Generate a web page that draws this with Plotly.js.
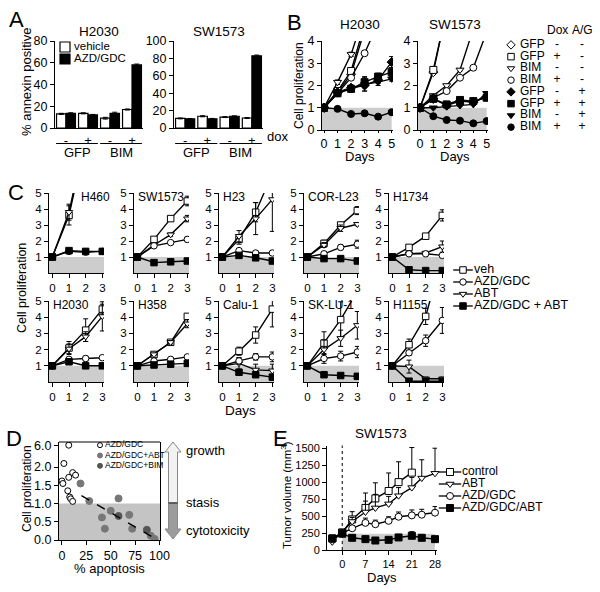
<!DOCTYPE html>
<html>
<head>
<meta charset="utf-8">
<script src="https://cdn.plot.ly/plotly-3.0.1.min.js"></script>
<style>
  html, body { margin: 0; padding: 0; background: #fff; }
  #fig { width: 600px; height: 592px; }
</style>
</head>
<body>
<div id="fig"></div>
<script>
// ---------- A: annexin staining ----------
const aConstruct = ['GFP', 'GFP', 'BIM', 'BIM'];
const aDox = ['-', '+', '-', '+'];
const aVehH2030 = [13, 13.5, 9, 17];
const aVehErrH2030 = [0.5, 0.5, 0.8, 0.5];
const aDrugH2030 = [13.5, 12, 13.5, 58];
const aDrugErrH2030 = [0.5, 0.5, 1, 0.8];
const aVehSW1573 = [11, 13.5, 12.5, 11.5];
const aVehErrSW1573 = [0.5, 0.6, 0.5, 0.5];
const aDrugSW1573 = [10.5, 10.5, 13.5, 83];
const aDrugErrSW1573 = [0.4, 0.5, 0.5, 0.8];
const aKeyNames = ['vehicle', 'AZD/GDC'];

// ---------- B: inducible BIM ----------
const bDays = [0, 1, 2, 3, 4, 5];
const bKeyConstruct = ['GFP', 'GFP', 'BIM', 'BIM', 'GFP', 'GFP', 'BIM', 'BIM'];
const bKeyDox = ['-', '+', '-', '+', '-', '+', '-', '+'];
const bKeyAG = ['-', '-', '-', '-', '+', '+', '+', '+'];
const bSymbols = ['diamond', 'square', 'triangle-down', 'circle', 'diamond', 'square', 'triangle-down', 'circle'];
const bFilled = [false, false, false, false, true, true, true, true];
const bH2030 = [
  [1, 1.7, 2.5, 4.8, 6.5, 8.5],
  [1, 1.75, 2.65, 4.6, 6.8, 9],
  [1, 2.15, 3.4, 5.3, 7, 9],
  [1, 1.65, 2.35, 3.45, 4.8, 6.5],
  [1, 1.7, 1.9, 2.0, 2.25, 3.05],
  [1, 1.65, 1.85, 2.15, 2.4, 2.6],
  [1, 1.7, 1.85, 2.05, 2.15, 2.3],
  [1, 0.95, 0.72, 0.75, 0.6, 0.8]
];
const bH2030Err = [
  [0, 0.1, 0.1, 0.1, 0, 0],
  [0, 0.1, 0.15, 0.1, 0, 0],
  [0, 0.1, 0.1, 0, 0, 0],
  [0, 0.1, 0.1, 0.1, 0, 0],
  [0, 0.1, 0.12, 0.25, 0.15, 0.25],
  [0, 0.12, 0.15, 0.25, 0.15, 0.2],
  [0, 0.1, 0.12, 0.3, 0.15, 0.1],
  [0, 0.05, 0.05, 0.05, 0.05, 0.05]
];
const bSW1573 = [
  [1, 2.6, 5.4, 8, 10, 12],
  [1, 2.7, 5.4, 8, 10, 12],
  [1, 1.55, 2.0, 2.7, 4.55, 6],
  [1, 1.45, 1.75, 2.35, 2.8, 4.4],
  [1, 1.4, 1.1, 1.3, 1.25, 1.5],
  [1, 1.4, 1.15, 1.35, 1.3, 1.45],
  [1, 1.0, 1.05, 1.1, 1.15, 1.65],
  [1, 0.62, 0.45, 0.42, 0.3, 0.4]
];
const bSW1573Err = [
  [0, 0.1, 0, 0, 0, 0],
  [0, 0.1, 0, 0, 0, 0],
  [0, 0.05, 0.05, 0.05, 0, 0],
  [0, 0.05, 0.05, 0.05, 0.05, 0],
  [0, 0.05, 0.05, 0.05, 0.05, 0.08],
  [0, 0.05, 0.05, 0.05, 0.05, 0.08],
  [0, 0.05, 0.05, 0.05, 0.05, 0.08],
  [0, 0.03, 0.03, 0.03, 0.03, 0.03]
];

// ---------- C: cell line panel ----------
const cDays = [0, 1, 2, 3];
const cCells = ['H460', 'SW1573', 'H23', 'COR-L23', 'H1734', 'H2030', 'H358', 'Calu-1', 'SK-LU-1', 'H1155'];
const cKeyNames = ['veh', 'AZD/GDC', 'ABT', 'AZD/GDC + ABT'];
const cVeh = [
  [1, 3.6, 8.3, 12], [1, 2.1, 3.4, 4.5], [1, 2.1, 3.8, 6.2], [1, 1.85, 3.0, 3.9], [1, 1.6, 2.3, 3.6],
  [1, 2.1, 3.2, 4.5], [1, 1.7, 2.45, 4.05], [1, 1.9, 2.9, 4.5], [1, 2.4, 3.85, 5.6], [1, 2.3, 4.05, 7.8]
];
const cVehErr = [
  [0, 0.6, 0, 0], [0, 0.1, 0.1, 0.3], [0, 0.3, 0.6, 0], [0, 0.2, 0.1, 0.25], [0, 0.1, 0.05, 0.35],
  [0, 0.4, 0.7, 0.3], [0, 0.05, 0.05, 0.1], [0, 0.25, 0.5, 1.1], [0, 0.7, 1.1, 0], [0, 0.35, 0.5, 0]
];
const cAzd = [
  [1, 1.35, 1.3, 1.35], [1, 1.7, 1.9, 2.1], [1, 1.4, 1.25, 1.25], [1, 1.2, 1.6, 1.8], [1, 1.2, 1.2, 1.1],
  [1, 1.4, 1.45, 1.5], [1, 1.3, 1.4, 1.55], [1, 1.3, 1.55, 1.55], [1, 1.45, 1.6, 1.85], [1, 1.8, 2.55, 3.8]
];
const cAzdErr = [
  [0, 0.05, 0.05, 0.05], [0, 0.1, 0.1, 0.15], [0, 0.1, 0.05, 0.05], [0, 0.15, 0.15, 0.25], [0, 0.05, 0.05, 0.05],
  [0, 0.1, 0.15, 0.1], [0, 0.05, 0.05, 0.05], [0, 0.2, 0.2, 0.3], [0, 0.3, 0.3, 0.35], [0, 0.15, 0.35, 0.8]
];
const cAbt = [
  [1, 3.8, 8.6, 13], [1, 1.75, 2.4, 3.4], [1, 2.3, 3.4, 4.6], [1, 1.75, 2.8, 3.05], [1, 1.2, 1.25, 1.65],
  [1, 2.05, 2.8, 4.05], [1, 1.7, 2.45, 3.6], [1, 1.15, 0.75, 0.7], [1, 2.0, 2.7, 3.5], [1, 0.95, 0.2, 0.2]
];
const cAbtErr = [
  [0, 0.5, 0, 0], [0, 0.1, 0.1, 0.2], [0, 0.35, 1.0, 2.0], [0, 0.15, 0.2, 0.1], [0, 0.1, 0.1, 0.35],
  [0, 0.3, 0.3, 0.9], [0, 0.05, 0.1, 0.25], [0, 0.35, 0.35, 0.4], [0, 0.6, 0.5, 0.85], [0, 0.4, 0.1, 0.1]
];
const cCombo = [
  [1, 1.4, 1.35, 1.35], [1, 0.65, 0.7, 0.75], [1, 1.1, 0.95, 0.75], [1, 0.9, 0.9, 0.75], [1, 0.2, 0.15, 0.15],
  [1, 1.25, 1.0, 1.0], [1, 1.05, 1.1, 1.15], [1, 0.6, 0.45, 0.3], [1, 0.45, 0.4, 0.35], [1, 0.05, 0.05, 0.05]
];
const cComboErr = [
  [0, 0.05, 0.05, 0.05], [0, 0.03, 0.03, 0.03], [0, 0.05, 0.05, 0.15], [0, 0.05, 0.05, 0.05], [0, 0.03, 0.03, 0.03],
  [0, 0.1, 0.05, 0.05], [0, 0.03, 0.03, 0.03], [0, 0.05, 0.05, 0.05], [0, 0.03, 0.03, 0.03], [0, 0.02, 0.02, 0.02]
];

// ---------- D: apoptosis vs proliferation ----------
const dAzdApop = [7, 2, 11, 14, 7, 0, 1, 6, 8, 9, 11];
const dAzdProlif = [6.0, 2.1, 1.85, 1.78, 1.72, 1.62, 1.55, 1.35, 1.18, 1.13, 1.06];
const dAbtApop = [19, 28, 58, 41, 44, 50, 69, 72, 91, 95];
const dAbtProlif = [1.55, 1.07, 1.14, 0.62, 0.31, 0.8, 0.69, 0.31, 0.12, 0.03];
const dBimApop = [58, 87];
const dBimProlif = [0.66, 0.28];
const dFitApop = [20, 98];
const dFitProlif = [1.22, 0.0];
const dKeyNames = ['AZD/GDC', 'AZD/GDC+ABT', 'AZD/GDC+BIM'];

// ---------- E: xenograft ----------
const eDays = [-3, 0, 3, 7, 10, 14, 17, 21, 24, 28];
const eControl = [170, 260, 450, 620, 760, 870, 1000, 1140, null, null];
const eControlErr = [20, 40, 115, 220, 230, 265, 300, 370, 0, 0];
const eAbt = [120, 270, 420, 560, 620, 680, 800, 920, 1060, 1130];
const eAbtErr = [20, 30, 60, 160, 200, 110, 120, 150, 270, 370];
const eAzd = [160, 250, 320, 400, 380, 430, 490, 510, 520, 550];
const eAzdErr = [15, 30, 40, 70, 60, 60, 70, 80, 80, 90];
const eCombo = [170, 240, 180, 160, 140, 150, 185, 210, 180, 160];
const eComboErr = [10, 30, 20, 20, 20, 20, 30, 60, 40, 20];
const eKeyNames = ['control', 'ABT', 'AZD/GDC', 'AZD/GDC/ABT'];
const eBaseline = 240;

const stasisLevel = 1;

// ---------- layout helpers ----------
const FONT = 'Liberation Sans, Arial, Helvetica, sans-serif';
const GRAY = '#cdcdcd';
const px = v => v / 600;
const py = v => 1 - v / 592;

const traces = [];
const shapes = [];
const annotations = [];
const layout = {
  width: 600, height: 592,
  margin: {l: 0, r: 0, t: 0, b: 0},
  paper_bgcolor: '#fff', plot_bgcolor: 'rgba(0,0,0,0)',
  showlegend: false,
  font: {family: FONT, color: '#000', size: 11},
  barmode: 'group', bargap: 0.14, bargroupgap: 0,
  shapes: shapes, annotations: annotations
};

const axisStyle = {
  showline: true, linecolor: '#000', linewidth: 1,
  ticks: 'outside', ticklen: 4, tickwidth: 1, tickcolor: '#000',
  showgrid: false, zeroline: false, fixedrange: true
};

let nAxes = 0;
// box = [left, right, top, bottom] in pixels
function addAxes(box, xopts, yopts) {
  nAxes++;
  const n = nAxes === 1 ? '' : String(nAxes);
  layout['xaxis' + n] = Object.assign({}, axisStyle, {domain: [px(box[0]), px(box[1])], anchor: 'y' + n}, xopts);
  layout['yaxis' + n] = Object.assign({}, axisStyle, {domain: [py(box[3]), py(box[2])], anchor: 'x' + n}, yopts);
  return {x: 'x' + n, y: 'y' + n};
}
function addYAxis(xName, top, bottom, yopts) {
  nAxes++;
  layout['yaxis' + nAxes] = Object.assign({}, axisStyle, {domain: [py(bottom), py(top)], anchor: xName}, yopts);
  return 'y' + nAxes;
}
function keyAxes(box, nRows) {
  return addAxes(box, {visible: false, range: [0, box[1] - box[0]]}, {visible: false, range: [nRows - 0.5, -0.5]});
}
function mk(symbol, filled, size, color) {
  color = color || '#000';
  return {symbol: symbol, size: size, color: filled ? color : '#fff', line: {color: color, width: 1}};
}
function err(arr, extra) {
  return Object.assign({type: 'data', array: arr, visible: true, color: '#000', thickness: 1, width: 2.5}, extra || {});
}
function note(text, x, y, size, extra) {
  annotations.push(Object.assign({xref: 'paper', yref: 'paper', x: px(x), y: py(y), text: text,
    showarrow: false, font: {size: size}, xanchor: 'center', yanchor: 'middle'}, extra || {}));
}
function keyColumn(ax, xPos, labels, anchor, size) {
  traces.push({type: 'scatter', mode: 'text', x: labels.map(() => xPos), y: labels.map((_, i) => i),
    text: labels, textposition: anchor, textfont: {size: size, family: FONT, color: '#000'},
    xaxis: ax.x, yaxis: ax.y, cliponaxis: false, hoverinfo: 'skip'});
}
function pathPx(points) {
  return 'M ' + points.map(p => px(p[0]) + ',' + py(p[1])).join(' L ') + ' Z';
}

// ---------- panel A ----------
const aCats = aConstruct.map((c, i) => c + ' ' + aDox[i]);
const aPanels = [
  {title: 'H2030', veh: aVehH2030, vehErr: aVehErrH2030, drug: aDrugH2030, drugErr: aDrugErrH2030, ymax: 80, box: [55, 143, 41, 128]},
  {title: 'SW1573', veh: aVehSW1573, vehErr: aVehErrSW1573, drug: aDrugSW1573, drugErr: aDrugErrSW1573, ymax: 100, box: [174, 263, 41, 128]}
];
aPanels.forEach(p => {
  const ax = addAxes(p.box,
    {type: 'category', range: [-0.5, 3.5], tickvals: aCats, ticktext: aDox, ticks: '', tickfont: {size: 13}},
    {range: [0, p.ymax], dtick: 20, tickfont: {size: 12.5}});
  traces.push({type: 'bar', name: aKeyNames[0], x: aCats, y: p.veh, xaxis: ax.x, yaxis: ax.y,
    marker: {color: '#fff', line: {color: '#000', width: 1.2}}, error_y: err(p.vehErr)});
  traces.push({type: 'bar', name: aKeyNames[1], x: aCats, y: p.drug, xaxis: ax.x, yaxis: ax.y,
    marker: {color: '#000', line: {color: '#000', width: 1.2}}, error_y: err(p.drugErr)});
  [...new Set(aConstruct)].forEach(c => {
    const first = aConstruct.indexOf(c), last = aConstruct.lastIndexOf(c);
    shapes.push({type: 'line', xref: ax.x, yref: 'paper', x0: first - 0.45, x1: last + 0.45,
      y0: py(143.5), y1: py(143.5), line: {color: '#000', width: 1}});
    annotations.push({xref: ax.x, yref: 'paper', x: (first + last) / 2, y: py(152), text: c,
      showarrow: false, font: {size: 13}, yanchor: 'middle'});
  });
  note(p.title, (p.box[0] + p.box[1]) / 2, 31, 13.5);
});
note('dox', 277, 136, 13);
note('% annexin positive', 27, 82, 13, {textangle: -90});
note('A', 16, 20, 22);
const aKey = keyAxes([58, 130, 41, 65], 2);
traces.push({type: 'scatter', mode: 'markers', x: aKeyNames.map(() => 7), y: aKeyNames.map((_, i) => i),
  xaxis: aKey.x, yaxis: aKey.y, marker: {symbol: 'square', size: 10, color: ['#fff', '#000'], line: {color: '#000', width: 1.2}}, cliponaxis: false});
keyColumn(aKey, 16, aKeyNames, 'middle right', 11.5);

// ---------- panel B ----------
const bXRange = [-0.15, 5.1];
const bPanels = [
  {title: 'H2030', data: bH2030, err: bH2030Err, box: [322, 393, 41, 130]},
  {title: 'SW1573', data: bSW1573, err: bSW1573Err, box: [418, 488, 41, 130]}
];
bPanels.forEach(p => {
  const ax = addAxes(p.box, {range: bXRange, tickvals: bDays, ticklen: 2, tickfont: {size: 12.5}},
    {range: [0, 4], dtick: 1, tickfont: {size: 12.5}});
  shapes.push({type: 'rect', xref: ax.x, yref: ax.y, x0: bXRange[0], x1: bDays[bDays.length - 1],
    y0: 0, y1: stasisLevel, fillcolor: GRAY, line: {width: 0}, layer: 'below'});
  p.data.forEach((ys, k) => traces.push({type: 'scatter', mode: 'lines+markers', x: bDays, y: ys,
    xaxis: ax.x, yaxis: ax.y, line: {color: '#000', width: 1.4}, marker: mk(bSymbols[k], bFilled[k], 7),
    error_y: err(p.err[k])}));
  note(p.title, (p.box[0] + p.box[1]) / 2 + 2, 24, 13.5);
  note('Days', (p.box[0] + p.box[1]) / 2 + 2, 157, 13);
});
note('Cell proliferation', 299, 86, 12, {textangle: -90});
note('B', 294, 22, 22);
const bKey = keyAxes([505, 595, 39, 133], 8);
traces.push({type: 'scatter', mode: 'markers', x: bSymbols.map(() => 6), y: bSymbols.map((_, i) => i),
  xaxis: bKey.x, yaxis: bKey.y, cliponaxis: false,
  marker: {symbol: bSymbols, size: 6.5, color: bFilled.map(f => f ? '#000' : '#fff'), line: {color: '#000', width: 1}}});
keyColumn(bKey, 15, bKeyConstruct, 'middle right', 12);
keyColumn(bKey, 52, bKeyDox, 'middle center', 12);
keyColumn(bKey, 77, bKeyAG, 'middle center', 12);
note('Dox', 557, 30, 12);
note('A/G', 582, 30, 12);

// ---------- panel C ----------
const cLefts = [49, 134, 219, 304, 389];
const cRows = [[193, 273], [301, 382]];
const cXRange = [-0.2, 3.1];
const cSeries = [
  {data: cVeh, err: cVehErr, symbol: 'square', filled: false},
  {data: cAbt, err: cAbtErr, symbol: 'triangle-down', filled: false},
  {data: cAzd, err: cAzdErr, symbol: 'circle', filled: false},
  {data: cCombo, err: cComboErr, symbol: 'square', filled: true}
];
cCells.forEach((cell, i) => {
  const rows = cRows[Math.floor(i / 5)];
  const left = cLefts[i % 5];
  const ax = addAxes([left, left + 55, rows[0], rows[1]], {range: cXRange, tickvals: cDays, tickfont: {size: 11.5}},
    {range: [0, 5], tickvals: [1, 2, 3, 4, 5], tickfont: {size: 11.5}});
  shapes.push({type: 'rect', xref: ax.x + ' domain', yref: ax.y, x0: 0, x1: 1, y0: 0, y1: stasisLevel,
    fillcolor: GRAY, line: {width: 0}, layer: 'below'});
  cSeries.forEach(s => traces.push({type: 'scatter', mode: 'lines+markers', x: cDays, y: s.data[i],
    xaxis: ax.x, yaxis: ax.y, line: {color: '#000', width: 1.4}, marker: mk(s.symbol, s.filled, 6.5),
    error_y: err(s.err[i])}));
  annotations.push({xref: ax.x + ' domain', yref: ax.y + ' domain', x: cell === 'H460' ? 0.55 : 0.03, y: 0.95,
    xanchor: 'left', yanchor: 'middle', text: cell, showarrow: false, font: {size: 12}});
});
note('Days', 240, 410, 13.5);
note('Cell proliferation', 22, 288, 12.5, {textangle: -90});
note('C', 16, 193, 22);
const cKey = keyAxes([455, 570, 264, 312], 4);
const cKeyOrder = [cSeries[0], cSeries[2], cSeries[1], cSeries[3]];
traces.push({type: 'scatter', mode: 'markers', x: cKeyNames.map(() => 8), y: cKeyNames.map((_, i) => i),
  xaxis: cKey.x, yaxis: cKey.y, cliponaxis: false,
  marker: {symbol: 'line-ew', size: 14, line: {color: '#000', width: 1.3}}});
traces.push({type: 'scatter', mode: 'markers', x: cKeyNames.map(() => 8), y: cKeyNames.map((_, i) => i),
  xaxis: cKey.x, yaxis: cKey.y, cliponaxis: false,
  marker: {symbol: cKeyOrder.map(s => s.symbol), size: 6.5, color: cKeyOrder.map(s => s.filled ? '#000' : '#fff'), line: {color: '#000', width: 1}}});
keyColumn(cKey, 19, cKeyNames, 'middle right', 12.5);

// ---------- panel D ----------
const dAx = addAxes([59, 160, 458, 540], {range: [-3, 100.5], tickvals: [0, 25, 50, 75, 100], tickfont: {size: 12.5}},
  {range: [0, 2.25], tickvals: [0, 0.5, 1, 1.5, 2], tickformat: '.1f', mirror: true, tickfont: {size: 12.5}});
const dUpper = addYAxis(dAx.x, 442, 458, {range: [5.6, 6.1], tickvals: [6], tickformat: '.1f', mirror: true, tickfont: {size: 12.5}});
shapes.push({type: 'line', xref: dAx.x + ' domain', yref: dUpper + ' domain', x0: 0, x1: 1, y0: 1, y1: 1, line: {color: '#000', width: 1}});
shapes.push({type: 'rect', xref: dAx.x + ' domain', yref: dAx.y, x0: 0, x1: 1, y0: 0, y1: stasisLevel,
  fillcolor: '#c4c4c4', line: {width: 0}, layer: 'below'});
const dHigh = dAzdProlif.map(v => v > 2.25);
traces.push({type: 'scatter', mode: 'markers', x: dAzdApop.filter((_, i) => !dHigh[i]), y: dAzdProlif.filter((_, i) => !dHigh[i]),
  xaxis: dAx.x, yaxis: dAx.y, marker: mk('circle', false, 6)});
traces.push({type: 'scatter', mode: 'markers', x: dAzdApop.filter((_, i) => dHigh[i]), y: dAzdProlif.filter((_, i) => dHigh[i]),
  xaxis: dAx.x, yaxis: dUpper, marker: mk('circle', false, 6)});
traces.push({type: 'scatter', mode: 'markers', x: dAbtApop, y: dAbtProlif, xaxis: dAx.x, yaxis: dAx.y,
  marker: mk('circle', true, 7, '#777')});
traces.push({type: 'scatter', mode: 'markers', x: dBimApop, y: dBimProlif, xaxis: dAx.x, yaxis: dAx.y,
  marker: mk('circle', true, 7, '#555')});
traces.push({type: 'scatter', mode: 'lines', x: dFitApop, y: dFitProlif, xaxis: dAx.x, yaxis: dAx.y,
  line: {color: '#000', width: 1.4, dash: 'dash'}});
const dKey = keyAxes([96, 160, 440, 471], 3);
traces.push({type: 'scatter', mode: 'markers', x: dKeyNames.map(() => 4), y: dKeyNames.map((_, i) => i),
  xaxis: dKey.x, yaxis: dKey.y, cliponaxis: false,
  marker: {symbol: 'circle', size: 5, color: ['#fff', '#777', '#555'], line: {color: ['#000', '#777', '#555'], width: 1}}});
keyColumn(dKey, 9, dKeyNames, 'middle right', 8.5);
note('Cell proliferation', 27, 489, 12, {textangle: -90});
note('% apoptosis', 110, 568, 13);
note('D', 14, 438, 22);
// growth / stasis / cytotoxicity arrow
shapes.push({type: 'path', xref: 'paper', yref: 'paper', fillcolor: '#f2f2f2', line: {color: '#888', width: 1},
  path: pathPx([[173, 442], [181, 452], [177.5, 452], [177.5, 503], [168.5, 503], [168.5, 452], [165, 452]])});
shapes.push({type: 'path', xref: 'paper', yref: 'paper', fillcolor: '#9c9c9c', line: {color: '#888', width: 1},
  path: pathPx([[168.5, 503], [177.5, 503], [177.5, 529], [181, 529], [173, 539], [165, 529], [168.5, 529]])});
shapes.push({type: 'line', xref: 'paper', yref: 'paper', x0: px(168.5), x1: px(177.5), y0: py(503), y1: py(503),
  line: {color: '#222', width: 1}});
note('growth', 184, 450, 13, {xanchor: 'left'});
note('stasis', 184, 502, 13, {xanchor: 'left'});
note('cytotoxicity', 184, 530, 13, {xanchor: 'left'});

// ---------- panel E ----------
const eAx = addAxes([327, 437, 445.5, 550], {range: [-4.6, 28.6], tickvals: [0, 7, 14, 21, 28], tickfont: {size: 11}},
  {range: [0, 1540], tickvals: [0, 250, 500, 750, 1000, 1250, 1500], tickfont: {size: 11}});
shapes.push({type: 'rect', xref: eAx.x, yref: eAx.y, x0: 0, x1: eDays[eDays.length - 1], y0: 0, y1: eBaseline,
  fillcolor: GRAY, line: {width: 0}, layer: 'below'});
shapes.push({type: 'line', xref: eAx.x, yref: eAx.y + ' domain', x0: 0, x1: 0, y0: 0, y1: 1,
  line: {color: '#000', width: 1, dash: 'dot'}});
const eSeries = [
  {data: eControl, err: eControlErr, symbol: 'square', filled: false},
  {data: eAbt, err: eAbtErr, symbol: 'triangle-down', filled: false},
  {data: eAzd, err: eAzdErr, symbol: 'circle', filled: false},
  {data: eCombo, err: eComboErr, symbol: 'square', filled: true}
];
eSeries.forEach(s => traces.push({type: 'scatter', mode: 'lines+markers', x: eDays, y: s.data,
  xaxis: eAx.x, yaxis: eAx.y, line: {color: '#000', width: 1.4}, marker: mk(s.symbol, s.filled, 7),
  error_y: err(s.err, {symmetric: false, arrayminus: s.err.map(() => 0)}), cliponaxis: false}));
const eKey = keyAxes([442, 570, 466, 514], 4);
traces.push({type: 'scatter', mode: 'markers', x: eKeyNames.map(() => 8), y: eKeyNames.map((_, i) => i),
  xaxis: eKey.x, yaxis: eKey.y, cliponaxis: false,
  marker: {symbol: 'line-ew', size: 16, line: {color: '#000', width: 1.3}}});
traces.push({type: 'scatter', mode: 'markers', x: eKeyNames.map(() => 8), y: eKeyNames.map((_, i) => i),
  xaxis: eKey.x, yaxis: eKey.y, cliponaxis: false,
  marker: {symbol: eSeries.map(s => s.symbol), size: 7, color: eSeries.map(s => s.filled ? '#000' : '#fff'), line: {color: '#000', width: 1}}});
keyColumn(eKey, 20, eKeyNames, 'middle right', 12);
note('SW1573', 381, 433, 13.5);
note('Days', 382, 577, 13);
note('Tumor volume (mm<sup>3</sup>)', 286, 495, 11.5, {textangle: -90});
note('E', 280, 438, 22);

Plotly.newPlot('fig', traces, layout, {displayModeBar: false, staticPlot: true});
</script>
</body>
</html>
